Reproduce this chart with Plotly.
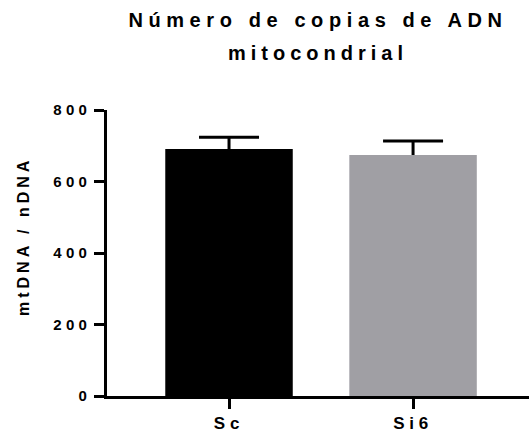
import plotly.graph_objects as go

categories = ["Sc", "Si6"]
means = [691, 674]
sem = [33, 39]
y_ticks = [0, 200, 400, 600, 800]
title_lines = ["Número de copias de ADN", "mitocondrial"]
y_title = "mtDNA / nDNA"

bar_colors = ["#000000", "#a09fa4"]
FONT = "Liberation Sans, Arial, sans-serif"

fig = go.Figure()
# first layer carries the error bars; second identical layer hides their lower half
fig.add_trace(go.Bar(
    x=categories, y=means, width=0.69,
    marker=dict(color=bar_colors, line=dict(width=0)),
    error_y=dict(type="data", array=sem, symmetric=True, color="#000000",
                 thickness=3, width=30),
    showlegend=False,
))
fig.add_trace(go.Bar(
    x=categories, y=means, width=0.69,
    marker=dict(color=bar_colors, line=dict(width=0)),
    showlegend=False, hoverinfo="skip",
))

fig.update_layout(
    width=529, height=439,
    margin=dict(l=107, r=0, t=110, b=43),
    paper_bgcolor="white", plot_bgcolor="white",
    barmode="overlay",
    font=dict(family=FONT, color="#000000"),
    title=dict(
        text=title_lines[0],
        x=0.5, xanchor="center", xref="paper",
        y=1 - 20 / 439, yanchor="middle", yref="container",
        font=dict(family=FONT, size=20, weight=700, color="#000000"),
    ),
    annotations=[
        dict(
            text=title_lines[1], xref="paper", yref="paper",
            x=0.5, y=1 + (110 - 53) / 286, xanchor="center", yanchor="middle",
            showarrow=False,
            font=dict(family=FONT, size=20, weight=700, color="#000000"),
        ),
        dict(
            text=y_title, xref="paper", yref="paper", textangle=-90,
            x=(23 - 107) / 422, y=(396 - 236) / 286,
            xanchor="center", yanchor="middle", showarrow=False,
            font=dict(family=FONT, size=16, weight=700, color="#000000"),
        ),
    ],
    xaxis=dict(
        range=[-0.663, 1.63],
        showline=True, linecolor="#000000", linewidth=3,
        ticks="outside", ticklen=10, tickwidth=3, tickcolor="#000000",
        tickfont=dict(family=FONT, size=17, weight=700),
        showgrid=False, zeroline=False,
    ),
    yaxis=dict(
        range=[0, 800],
        tickvals=y_ticks, ticktext=[str(v) for v in y_ticks],
        showline=True, linecolor="#000000", linewidth=3,
        ticks="outside", ticklen=10, tickwidth=3, tickcolor="#000000",
        tickfont=dict(family=FONT, size=15, weight=700),
        showgrid=False, zeroline=False,
    ),
)

post = """
var s = document.createElement('style');
s.textContent = 'html, body {margin:0; padding:0;} .main-svg .gtitle, .main-svg .xtick text, .main-svg .ytick text {letter-spacing: 0.28em;} .main-svg .annotation-text {letter-spacing: 0.25em;}';
document.head.appendChild(s);
"""

fig.write_html("out.html", post_script=post, config={"displayModeBar": False})
